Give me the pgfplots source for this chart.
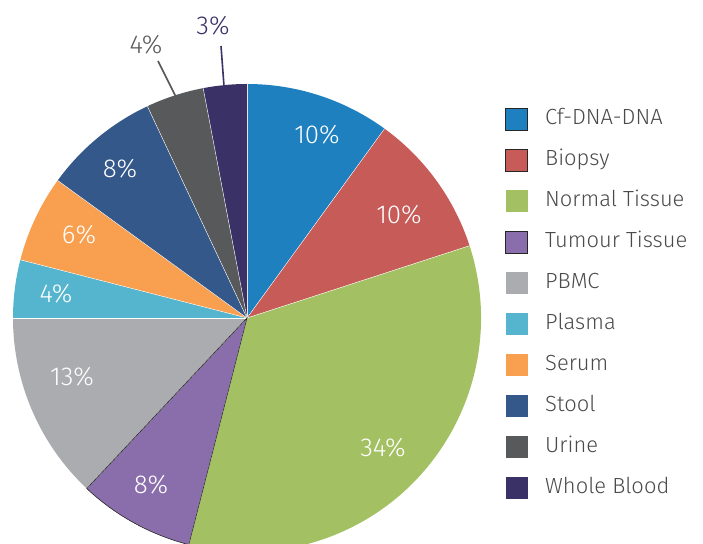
\documentclass[border=0pt]{standalone}
\usepackage{fontspec}
\setmainfont{Fira Sans}[UprightFont={* Light}]
\usepackage{pgfplots}
\pgfplotsset{compat=1.18}

\definecolor{cfdna}{HTML}{1F80C0}
\definecolor{biopsy}{HTML}{C65B58}
\definecolor{normal}{HTML}{A3C163}
\definecolor{tumour}{HTML}{8A6DAB}
\definecolor{pbmc}{HTML}{ABACAF}
\definecolor{plasma}{HTML}{55B4CE}
\definecolor{serum}{HTML}{F8A050}
\definecolor{stool}{HTML}{34588A}
\definecolor{urine}{HTML}{58595B}
\definecolor{blood}{HTML}{3A3166}
\definecolor{legtext}{HTML}{4A4A4C}

\begin{document}
\begin{tikzpicture}
\begin{axis}[width=703bp,height=544bp,scale only axis,hide axis,
  xmin=0,xmax=703,ymin=0,ymax=544,clip=true]
\addplot[draw=none] coordinates {(0,0) (703,544)};
\pgfplotsextra{
  % slices, clockwise from 12 o'clock
  \gdef\cum{0}
  \foreach \v/\c in {10/cfdna,10/biopsy,34/normal,8/tumour,13/pbmc,4/plasma,6/serum,8/stool,4/urine,3/blood}{
    \pgfmathsetmacro\a{90-3.6*\cum}
    \pgfmathsetmacro\b{90-3.6*(\cum+\v)}
    \fill[\c] (axis cs:247,226) -- ++(\a:234bp) arc[start angle=\a,end angle=\b,radius=234bp] -- cycle;
    \draw[white,line width=0.4pt] (axis cs:247,226) -- ++(\a:234bp);
    \pgfmathsetmacro\n{\cum+\v}\xdef\cum{\n}
  }
  % outline of the highlighted tumour slice
  \draw[black!85,line width=0.6pt] (axis cs:247,226) -- ++(-104.4:234bp)
    arc[start angle=-104.4,end angle=-133.2,radius=234bp] -- cycle;
  % percentage labels
  \foreach \t/\x/\y in {10\%/317/409,10\%/399/329,34\%/383/96,8\%/151/59,13\%/72/167,
                        4\%/56/250,6\%/79/309,8\%/120/375}{
    \node[white,font=\fontsize{26}{26}\selectfont] at (axis cs:\x,\y) {\t};
  }
  \draw[urine,line width=1.6bp] (axis cs:158,483) -- (axis cs:176,447);
  \draw[blood,line width=1.6bp] (axis cs:221,498) -- (axis cs:224,458);
  \node[urine,font=\fontsize{26}{26}\selectfont] at (axis cs:146,499) {4\%};
  \node[blood,font=\fontsize{26}{26}\selectfont] at (axis cs:213,518) {3\%};
  % legend
  \foreach \c/\t/\o [count=\i from 0] in {cfdna/Cf-DNA-DNA/1,biopsy/Biopsy/1,normal/Normal Tissue/0,
      tumour/Tumour Tissue/1,pbmc/PBMC/0,plasma/Plasma/0,serum/Serum/0,stool/Stool/0,
      urine/Urine/0,blood/Whole Blood/0}{
    \pgfmathsetmacro\yy{544-119-41*\i}
    \ifnum\o=1
      \filldraw[fill=\c,draw=black!85,line width=0.8pt] (axis cs:505.5,\yy-11) rectangle (axis cs:527.5,\yy+11);
    \else
      \fill[\c] (axis cs:505.5,\yy-11) rectangle (axis cs:527.5,\yy+11);
    \fi
    \node[legtext,anchor=mid west,inner sep=0pt,font=\fontsize{22}{22}\selectfont] at (axis cs:545,\yy-3) {\t};
  }
}
\end{axis}
\end{tikzpicture}
\end{document}
